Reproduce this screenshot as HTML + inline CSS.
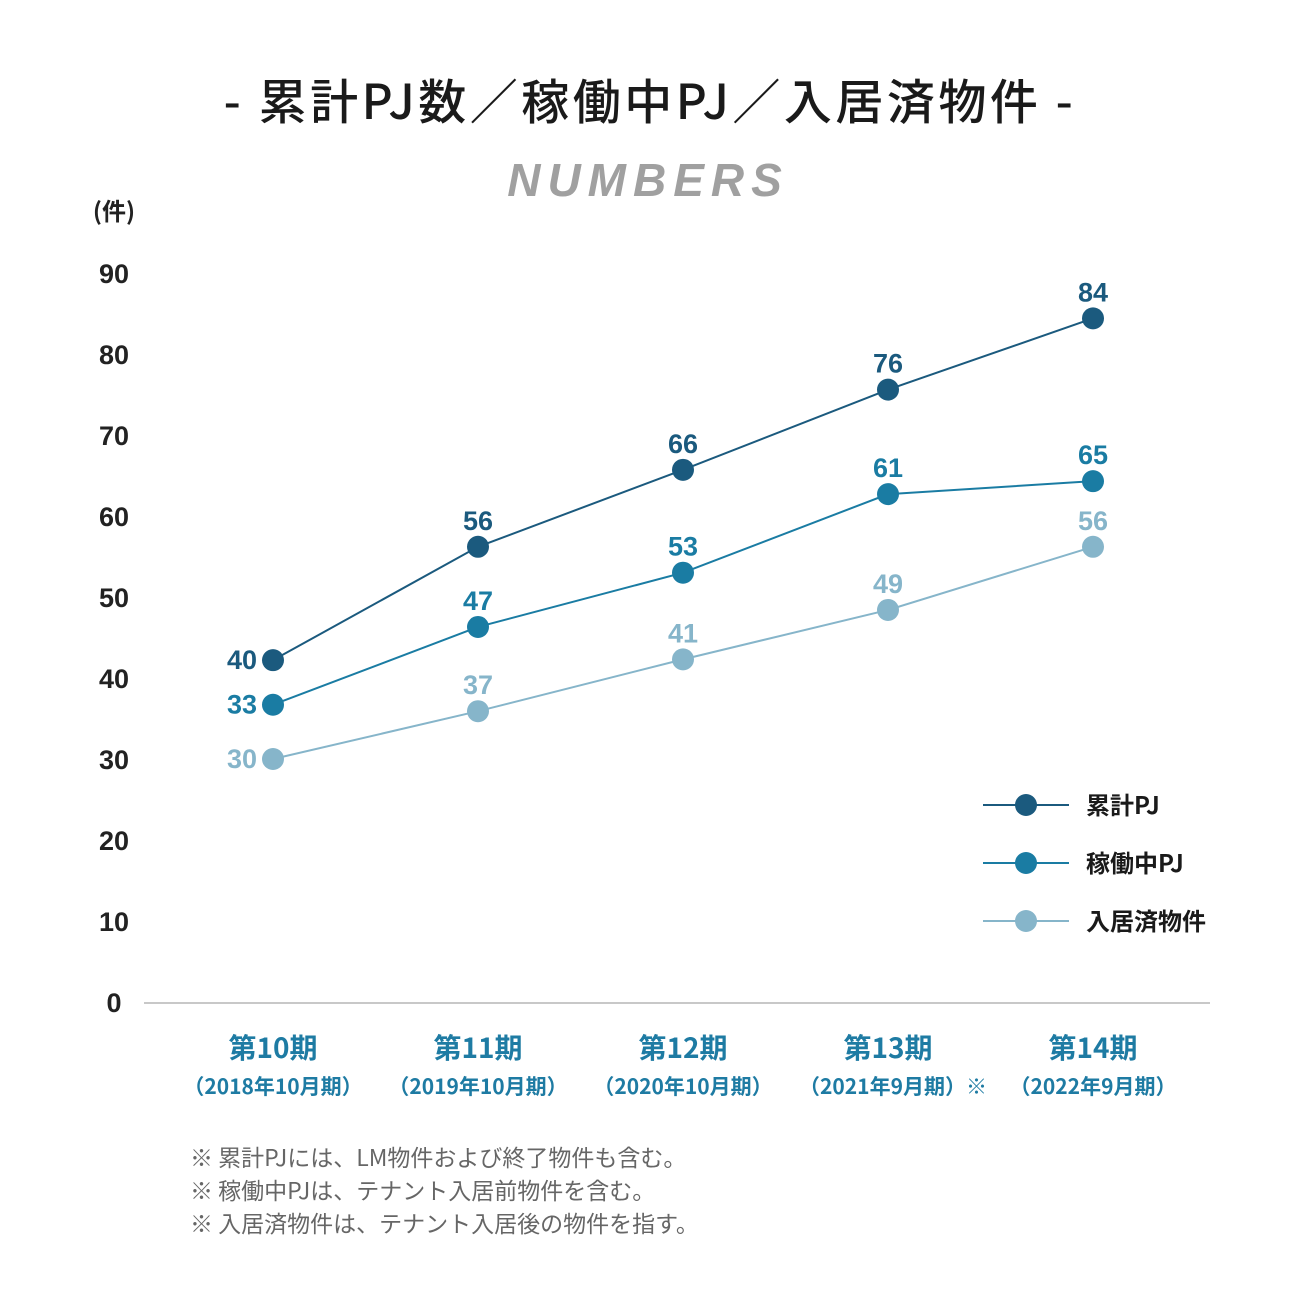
<!DOCTYPE html>
<html><head><meta charset="utf-8"><style>
html,body{margin:0;padding:0;background:#fff;}
body{width:1300px;height:1300px;overflow:hidden;font-family:"Liberation Sans","Noto Sans CJK JP",sans-serif;}
</style></head><body>
<svg id="chart" width="1300" height="1300" viewBox="0 0 1300 1300" xmlns="http://www.w3.org/2000/svg" style="font-family:'Liberation Sans','Noto Sans CJK JP',sans-serif">
<text x="650" y="119" text-anchor="middle" font-size="48" font-weight="500" letter-spacing="3.5" fill="#1a1a1a" style="font-family:'Noto Sans CJK JP',sans-serif">- 累計PJ数／稼働中PJ／入居済物件 -</text>
<text x="648" y="196" text-anchor="middle" font-size="46" font-weight="bold" font-style="italic" letter-spacing="7" fill="#a0a0a0">NUMBERS</text>
<text x="114" y="220" text-anchor="middle" font-size="24" font-weight="bold" fill="#222" style="font-family:'Noto Sans CJK JP',sans-serif">(件)</text>
<g id="yticks"></g>
<line x1="144" y1="1003" x2="1210" y2="1003" stroke="#c8c8c8" stroke-width="2"/>
<g id="xlabels"></g>
<g id="series"></g>
<g id="legend"></g>
<g font-size="23" fill="#666" style="font-family:'Noto Sans CJK JP',sans-serif">
<text x="190" y="1166">※ 累計PJには、LM物件および終了物件も含む。</text>
<text x="190" y="1199">※ 稼働中PJは、テナント入居前物件を含む。</text>
<text x="190" y="1232">※ 入居済物件は、テナント入居後の物件を指す。</text>
</g>
</svg>
<script>
const categories = ["第10期","第11期","第12期","第13期","第14期"];
const subCategories = ["（2018年10月期）","（2019年10月期）","（2020年10月期）","（2021年9月期）※","（2022年9月期）"];
const yTicks = [0,10,20,30,40,50,60,70,80,90];
const cumulativeValues = [42.2,56.2,65.7,75.6,84.4];
const cumulativeLabels = ["40","56","66","76","84"];
const activeValues = [36.7,46.3,53.0,62.7,64.3];
const activeLabels = ["33","47","53","61","65"];
const occupiedValues = [30.0,35.9,42.3,48.4,56.2];
const occupiedLabels = ["30","37","41","49","56"];
const seriesNames = ["累計PJ","稼働中PJ","入居済物件"];

const NS="http://www.w3.org/2000/svg";
function y(v){return 1002 - v*8.1;}
function x(i){return 273 + i*205;}
function mk(tag,attrs,parent){const e=document.createElementNS(NS,tag);for(const k in attrs)e.setAttribute(k,attrs[k]);parent.appendChild(e);return e;}

const yt=document.getElementById('yticks');
yTicks.forEach(t=>{
  const e=mk('text',{x:114,y:y(t)+10,'text-anchor':'middle','font-size':27,'font-weight':'bold',fill:'#222'},yt);
  
  
  e.textContent=t;
});
const xl=document.getElementById('xlabels');
categories.forEach((c,i)=>{
  const e=mk('text',{x:x(i),y:1058,'text-anchor':'middle','font-size':28,'font-weight':'bold',fill:'#1e7ba3',style:"font-family:'Noto Sans CJK JP',sans-serif"},xl);
  
  
  e.textContent=c;
  const s=mk('text',{x:x(i)+(i===3?5:0),y:1094,'text-anchor':'middle','font-size':21,'font-weight':'bold',fill:'#1e7ba3',style:"font-family:'Noto Sans CJK JP',sans-serif"},xl);
  
  
  s.textContent=subCategories[i];
});
const colors=["#1b5a7e","#1a7ca3","#86b5ca"];
const allVals=[cumulativeValues,activeValues,occupiedValues];
const allLabels=[cumulativeLabels,activeLabels,occupiedLabels];
const sg=document.getElementById('series');
allVals.forEach((vals,si)=>{
  const g=mk('g',{},sg);
  
  
  const p=mk('polyline',{points:vals.map((v,i)=>x(i)+','+y(v)).join(' '),fill:'none',stroke:colors[si],'stroke-width':2},g);
  
  
  vals.forEach((v,i)=>{
    const c=mk('circle',{cx:x(i),cy:y(v),r:11,fill:colors[si]},g);
    
    
    const t= i===0 ? mk('text',{x:x(i)-16,y:y(v)+9,'text-anchor':'end','font-size':27,'font-weight':'bold',fill:colors[si]},g)
                   : mk('text',{x:x(i),y:y(v)-17,'text-anchor':'middle','font-size':27,'font-weight':'bold',fill:colors[si]},g);
    
    
    t.textContent=allLabels[si][i];
  });
});
const lg=document.getElementById('legend');
seriesNames.forEach((n,i)=>{
  const yy=805+i*58;
  const g=mk('g',{},lg);
  
  
  mk('line',{x1:983,y1:yy,x2:1069,y2:yy,stroke:colors[i],'stroke-width':2},g);
  mk('circle',{cx:1026,cy:yy,r:11,fill:colors[i]},g);
  const t=mk('text',{x:1086,y:yy+9,'font-size':24,'font-weight':'bold',fill:'#1a1a1a',style:"font-family:'Noto Sans CJK JP',sans-serif"},g);
  
  
  t.textContent=n;
});
</script>
</body></html>
